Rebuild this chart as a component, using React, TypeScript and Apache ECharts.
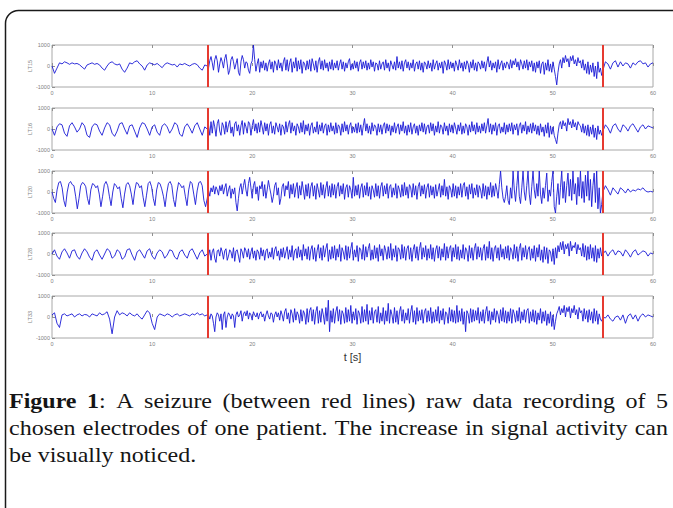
import React, { useEffect, useRef } from "react";
import * as echarts from "echarts";

// ---------- data ----------
const channelNames = ["LT15", "LT16", "LT20", "LT28", "LT33"];
const seizureStart = 15.5;
const seizureEnd = 55;
const recordEnd = 60;
const xAxisName = "t [s]";

// LT15
const lt15Pre = [0, -350, -100, 150, 100, 200, 150, 80, 150, 100, 120, 60, -50, -150, 50, 100, 150, 80, 120, 50, -100, -200, 0, 150, 200, 100, 50, 100, -150, -300, -100, 150, 100, 200, 250, 100, 0, -200, 50, 150, 100, 60, 120, 20, -80, 80, 150, 100, 50, 80, -50, 100, 60, 120, 50, 0, 80, 120, 60, -100, -200, 50, 0];
const lt15Seizure = [
  -100, 250, 450, 150, -200, 300, 500, 250, -300, 100, 400, 200, -100, 350, 550, 100, -400, -200, 300, 450,
  200, -150, 100, 350, -300, -450, 200, 500, 300, -100, 200, 150, -200, -350, 100, 250, 1000, 300, -250, 100,
  350, -300, 200, -100, 250, -200, 150, -250, 100, 300, -150, 200, -300, 250, 100, -200, 300, -100, 150, -250,
  200, 400, -200, 300, -250, 150, 350, -300, 200, -100, 400, -250, 250, -150, 300, -350, 200, 100, -200, 250,
  -150, 300, -250, 350, 100, -200, 250, -300, 200, 400, -150, 250, -200, 300, -100, 150, -250, 200, -150, 300,
  -200, 150, -100, 250, -200, 100, 300, -150, 200, -250, 150, -100, 200, 350, -200, 100, -150, 250, -100, 200,
  -250, 150, 300, -150, 200, -100, 250, -200, 150, -150, 300, -50, 200, -250, 150, 100, -200, 250, -150, 100,
  200, -200, 300, -100, 150, -250, 250, 50, -150, 200, -200, 450, -100, 200, -150, 250, -250, 150, 300, -100,
  200, -200, 150, -100, 300, -250, 100, 200, -150, 250, -200, 150, -300, 200, 100, -150, 250, -100, 150, -250,
  300, -150, 100, 250, -200, 150, -100, 200, -350, 250, 100, -200, 300, -150, 200, -100, 150, -250, 250, 50,
  -200, 300, -100, 150, -250, 200, -150, 250, 100, -300, 200, -100, 300, -200, 150, -250, 200, 100, -150, 250,
  -100, 200, -250, 150, 450, -50, 250, -200, 150, -100, 200, -300, 300, -150, 100, 250, -200, 150, -100, 200,
  100, -150, 300, -100, 250, 50, 350, -50, 200, -200, 300, 100, -150, 250, -100, 300, -200, 200, -50, 250,
  -250, 150, -300, 200, -100, 250, -350, 100, 200, -400, 150, -200, 300, -250, 100, -300, 200, -150, -500, -900,
  -300, 100, 300, -100, 400, 150, 500, 200, 350, -50, 450, 250, 500, 100, 300, 0, 400, 150, 250, -100,
  300, -200, 100, -350, 200, -400, 50, -300, 150, -500, 0, -600, 200, -300, -100, -450,
];
const lt15Post = [-200, 200, 100, -150, 150, 250, -50, 200, 0, 150, 100, -100, 150, 50, 200, 250, 100, 150, -50, 100, 150];

// LT16
const lt16Pre = [0, -300, 100, 250, 200, -200, -350, 150, 300, 100, -150, 0, 300, 150, -300, -400, 100, 250, 200, -100, -300, 50, 300, 200, -200, -350, -100, 250, 300, 0, -250, 150, 200, -100, -400, 50, 300, 250, 0, -300, 100, 200, -150, -300, 150, 250, 100, -200, 0, 300, 200, -250, -350, 100, 250, 50, -200, 150, 300, 0, -300, 100, 0];
const lt16Seizure = [
  200, -300, 350, -200, 400, 100, -350, 250, 450, -100, -300, 300, 150, -250, 350, -150, 200, 400, -200, 100,
  -350, 250, 350, -100, 200, -300, 150, 400, -250, 300, 100, -200, 350, 250, -300, 150, 450, -100, 250, -200,
  300, -150, 400, 100, -250, 300, -100, 250, -300, 200, 350, -200, 150, -250, 300, 100, -150, 250, -300, 200,
  100, -250, 350, -150, 200, 400, -200, 300, -100, 150, -300, 250, 100, -200, 300, -150, 400, -250, 200, -100,
  250, -300, 150, 300, -200, 100, -150, 350, -250, 200, -100, 300, -200, 150, 250, -300, 200, -150, 300, -100,
  150, -250, 300, -200, 200, 100, -300, 250, -150, 350, -100, 200, -250, 150, 300, -200, 100, -150, 250, -200,
  300, -150, 200, -300, 150, 500, -100, 250, -200, 150, -250, 300, -100, 200, 100, -300, 250, -150, 200, -250,
  150, 300, -200, 250, -100, 200, -300, 150, -150, 300, -200, 100, 250, -250, 200, -100, 350, -200, 150, -300,
  200, -150, 300, -250, 100, 250, -200, 150, -300, 200, -100, 300, -150, 250, -250, 100, 200, -200, 300, -100,
  250, -300, 150, -150, 350, -200, 200, 100, -250, 300, -100, 150, -300, 250, -150, 200, -200, 300, 50, -250,
  200, -100, 300, -250, 150, -200, 250, 100, -300, 200, -150, 350, -100, 200, -250, 300, -150, 150, -200, 250,
  -100, 300, -200, 150, 500, -150, 250, -250, 200, -100, 300, -300, 150, 250, -200, 100, -150, 300, -250, 200,
  -150, 250, -100, 300, -250, 200, -50, 250, -300, 150, 300, -200, 200, -100, 350, -250, 150, -150, 250, -200,
  300, -100, 200, -250, 150, -300, 250, -150, 100, -350, 200, -200, 300, -400, 150, -250, 100, -300, -500, -700,
  -200, 200, 350, 0, 400, 150, 300, -100, 500, 200, 350, 50, 450, 100, 300, -50, 350, 200, 150, -150,
  250, -200, 150, -300, 200, -350, 100, -250, 200, -400, 50, -500, 150, -250, -50, -300,
];
const lt16Post = [-100, 200, 50, -200, 150, 250, 0, -150, 200, 100, -100, 150, 250, 50, -150, 100, 200, 0, 150, 100, 50];

// LT20
const lt20Pre = [0, -300, -500, 100, 450, 500, 200, -400, -700, 0, 400, 500, 350, 300, -200, -800, -300, 300, 450, 400, 250, -300, -600, 100, 400, 350, 200, 300, -100, -700, -200, 350, 500, 300, -200, -650, 0, 400, 300, 150, 250, -300, -750, -100, 350, 450, 300, -100, -600, 50, 450, 400, 200, 300, -250, -700, -150, 400, 500, 250, -300, -650, 100, 450, 400, 150, -200, -700, -50, 400, 500, 300, -350, -700, 0, 450, 350, 200, 300, -200, -650, 100, 500, 400, -100, -600, 50, 450, 500, 300, -400, -700, -300];
const lt20Seizure = [
  100, -200, 200, 0, 300, -100, 250, 100, -150, 300, 50, 350, -100, 200, 400, -200, 100, 300, -300, 150,
  -100, 200, -500, -900, -300, 200, 400, -100, 300, 600, 100, -200, 400, 700, 200, -300, 300, 500, -100, 250,
  -400, 300, 150, 500, -200, 350, -300, 100, 550, 200, -100, -500, -200, 300, 450, -150, 200, -600, -300, 250,
  400, -200, 300, 100, 500, -300, 350, -100, 400, -250, 200, 450, -300, 300, -150, 500, 100, -350, 350, -200,
  400, -300, 250, 450, -200, 300, -350, 400, 100, -250, 450, -150, 350, -300, 200, 500, -200, 300, -250, 400,
  -150, 350, -300, 250, 450, -200, 300, -100, 400, -350, 200, 350, -250, 300, 100, -300, 700, -200, 300, -150,
  350, -300, 200, 400, -250, 300, -150, 450, -200, 250, -350, 300, 100, -250, 400, -200, 300, -300, 250, 450,
  -200, 300, -100, 400, -300, 250, 350, -250, 200, -150, 400, -300, 300, 100, -250, 350, -200, 450, -150, 250,
  -300, 350, 200, -250, 400, -150, 300, -350, 250, 450, -200, 300, -100, 350, -300, 200, 400, -250, 300, -150,
  250, -300, 350, -200, 100, 400, -250, 300, -150, 600, -200, 250, -350, 300, 150, -250, 400, -200, 300, -300,
  250, -150, 400, -250, 300, 450, -200, 250, -350, 350, -100, 400, -300, 200, -150, 350, -250, 300, 100, -300,
  400, -200, 300, -350, 250, -150, 450, -250, 300, -200, 400, 100, -300, 350, 1000, 200, -300, -500, -200, 300,
  -400, -600, 200, -300, 1000, 100, -450, 300, 1000, -200, -550, 200, 1000, 0, -400, 300, 1000, -100, -600, 250,
  1000, 100, -300, 400, -200, 1000, -100, -550, 200, -300, 300, 900, -450, 100, -200, 500, 1000, -700, -1000, -200,
  400, -600, 200, 1000, -300, 500, -500, 300, 900, -200, 600, -400, 1000, -100, 400, -600, 700, -200, 1000, -300,
  500, -500, 800, -200, 1000, -400, 600, -700, 300, 900, -500, 1000, -800, 200, -1000, -600,
];
const lt20Post = [0, 300, 100, -150, 200, 50, -100, 200, 100, -50, 150, 0, 100, 50, 150, 100, 200, 50, 0, 30, 0];

// LT28
const lt28Pre = [0, 200, -100, -250, 100, 250, 50, -200, 150, 200, -100, -250, 50, 250, 100, -150, -300, 100, 200, -50, -250, 0, 250, 150, -200, -100, 200, 100, -250, -150, 200, 250, -50, -300, 100, 200, 0, -200, 150, 250, -100, -250, 50, 200, 100, -200, -50, 200, 150, -150, -250, 100, 200, -50, -200, 150, 250, 0, -250, 50, 200, -100, 0];
const lt28Seizure = [
  -100, 200, -300, 100, 250, -200, -400, 150, 200, -100, 300, 100, -250, 150, 250, -300, -100, 200, 100, -200,
  300, -350, 150, 200, -100, -400, 250, 100, -200, 300, 150, -150, 250, -250, 100, 300, -200, 150, -300, 200,
  100, -250, 300, -100, 200, -300, 150, 250, -200, 100, -150, 300, -250, 200, 350, -100, 150, -300, 250, -150,
  300, -200, 100, 350, -250, 200, -150, 400, -300, 150, 250, -200, 350, -150, 200, -300, 450, -100, 250, -250,
  350, -300, 200, 400, -250, 300, -350, 150, 450, -200, 300, -300, 400, -150, 250, 500, -350, 200, -250, 350,
  -200, 400, -300, 250, -150, 450, -350, 300, 100, -250, 400, -300, 350, -200, 250, 550, -300, 200, -150, 400,
  -350, 300, 200, -250, 450, -300, 350, -150, 250, 500, -300, 200, -250, 400, -200, 300, -350, 450, -100, 250,
  -300, 400, 150, -250, 350, -200, 500, -300, 250, -150, 400, -350, 300, 200, -250, 450, -200, 350, -300, 250,
  400, -250, 300, -350, 200, 450, -200, 350, -300, 250, 550, -250, 300, -150, 400, -300, 250, -200, 450, -250,
  300, -350, 200, 400, -200, 350, -300, 250, -150, 500, -300, 350, -200, 250, 400, -350, 300, -150, 450, -250,
  350, -300, 200, -200, 450, -250, 300, 150, -350, 400, -200, 300, -300, 250, 500, -250, 350, -150, 300, -300,
  250, 450, -300, 350, -200, 600, -250, 300, -350, 250, 400, -200, 300, -300, 450, -150, 250, -250, 350, -200,
  400, -300, 300, 150, -250, 450, -200, 350, -350, 250, 500, -300, 300, -150, 400, -250, 200, 350, -300, 250,
  -200, 400, -350, 300, -150, 450, -300, 200, -400, 350, -250, 300, -450, 200, 100, -350, 250, -500, 300, -200,
  400, 100, 550, 200, 600, 0, 450, 250, 500, -100, 600, 150, 400, 300, 550, 0, 450, 200, 300, -100,
  500, -150, 400, -300, 350, -250, 450, -200, 300, -350, 400, -400, 250, -200, 300, -100,
];
const lt28Post = [0, 150, -100, 100, 200, -50, 150, 100, -100, 200, 50, -150, 100, 200, -50, 50, 150, 100, -100, 50, 0];

// LT33
const lt33Pre = [100, 200, -300, -500, 100, 150, 50, 100, 150, 0, 100, 150, 50, 120, 100, 0, 150, 100, 50, 200, 100, 150, 250, -100, -800, 0, 300, 100, 200, 150, 50, 200, 100, 50, 150, 0, -100, 100, 300, 200, -300, -600, 0, 150, 100, 50, 150, 100, 0, 100, 150, 50, 100, 150, 100, 50, 150, 100, 200, 100, 150, 50, 100];
const lt33Seizure = [
  100, -100, 150, 50, -300, -700, 0, 200, 100, -200, 150, -600, 100, 250, -500, 0, 200, 100, -100, 150,
  50, -500, 100, 250, 0, 100, 300, -200, 150, 250, 50, 300, -100, 200, 100, -150, 250, 100, 0, 200,
  -100, 150, 250, 0, 150, -200, 100, 300, 50, -100, 200, 150, -250, 100, 250, 0, 200, -150, 300, 100,
  -200, 250, 400, -100, 200, -300, 350, 150, -250, 400, -150, 250, 100, -300, 350, -200, 300, 150, -350, 400,
  -250, 300, 450, -200, 350, -350, 250, 500, -300, 300, -250, 400, 100, -350, 450, -200, 800, -700, 300, -250,
  400, -300, 250, 500, -200, 350, -350, 300, 150, -300, 450, -250, 350, -200, 550, -300, 250, -150, 400, -350,
  300, 150, -300, 500, -250, 350, -200, 600, -350, 300, -150, 450, -300, 250, 350, -250, 500, -300, 200, -200,
  450, -350, 300, -200, 650, -300, 350, 100, -300, 450, -250, 300, -350, 250, 500, -200, 350, -300, 200, -150,
  400, -300, 250, 550, -250, 300, -350, 450, -200, 300, -150, 350, -300, 250, 400, -250, 300, -200, 450, -300,
  250, -250, 350, -200, 500, -300, 300, -150, 400, -350, 250, 150, -300, 450, -200, 350, -250, 300, -300, 550,
  -250, 300, -200, 400, -350, 250, -700, 300, 150, -300, 400, -250, 350, -200, 300, -150, 450, -300, 250, -200,
  350, -300, 250, 500, -200, 300, -350, 250, -150, 400, -250, 300, 100, -300, 350, -200, 450, -250, 300, -300,
  250, -200, 400, -300, 350, 150, -250, 300, -200, 450, -300, 250, -150, 350, -250, 300, 400, -300, 250, -200,
  350, -250, 300, -350, 200, -150, 400, -300, 250, -200, 300, -400, 150, -300, 250, -450, 100, -600, -200, 150,
  300, 500, 100, 400, 200, 550, 0, 450, 250, 500, -50, 400, 200, 550, 100, 350, -100, 450, 200, 300,
  -200, 400, -100, 300, -250, 350, -150, 250, -300, 400, -200, 300, -350, 150, -100, -200,
];
const lt33Post = [0, -50, 100, -100, -200, 0, 50, -150, 100, -300, 50, 150, -100, 100, -200, 50, 150, 0, 100, 50, 0];

const channelSegments = [
  [lt15Pre, lt15Seizure, lt15Post],
  [lt16Pre, lt16Seizure, lt16Post],
  [lt20Pre, lt20Seizure, lt20Post],
  [lt28Pre, lt28Seizure, lt28Post],
  [lt33Pre, lt33Seizure, lt33Post],
];

const captionLines = [
  "Figure 1: A seizure (between red lines) raw data recording of 5",
  "chosen electrodes of one patient. The increase in signal activity can",
  "be visually noticed.",
];
const captionBoldPrefix = "Figure 1";

// ---------- layout ----------
const gridLeft = 52;
const gridWidth = 601;
const gridHeight = 42;
const gridTops = [45, 108, 171, 233, 296];
const captionFont = "Liberation Serif";
const captionSize = 20;

function samplesToPoints(pre: number[], sz: number[], post: number[]) {
  const pts: number[][] = [];
  pre.forEach((v, i) => pts.push([(i * seizureStart) / (pre.length - 1), v]));
  const span = seizureEnd - seizureStart;
  sz.forEach((v, i) => pts.push([seizureStart + ((i + 1) * span) / (sz.length + 1), v]));
  post.forEach((v, i) => pts.push([seizureEnd + (i * (recordEnd - seizureEnd)) / (post.length - 1), v]));
  return pts;
}

function buildCaption(): any[] {
  const canvas = document.createElement("canvas");
  const ctx = canvas.getContext("2d")!;
  const fs = captionSize;
  const measure = (s: string, bold: boolean) => {
    ctx.font = `${bold ? "bold " : ""}${fs}px "${captionFont}"`;
    return ctx.measureText(s).width;
  };
  const natural = measure(captionLines[1], false);
  const sx = Math.max(1, Math.min(1.2, 650 / natural));
  const x0 = 9;
  const x1 = 668;
  const lineY = [401, 428, 455];
  const els: any[] = [];
  let charPos = 0;
  captionLines.forEach((line, li) => {
    const words = line.split(" ");
    const wordRuns = words.map((w) => {
      const runs: { text: string; bold: boolean }[] = [];
      for (let k = 0; k < w.length; k++) {
        const bold = li === 0 && charPos + k < captionBoldPrefix.length;
        const last = runs[runs.length - 1];
        if (last && last.bold === bold) last.text += w[k];
        else runs.push({ text: w[k], bold });
      }
      charPos += w.length + 1;
      return runs;
    });
    const widths = wordRuns.map((runs) => runs.reduce((s, r) => s + measure(r.text, r.bold) * sx, 0));
    const total = widths.reduce((a, b) => a + b, 0);
    const justify = li < captionLines.length - 1;
    const gap = justify ? (x1 - x0 - total) / (words.length - 1) : measure(" ", false) * sx;
    let x = x0;
    wordRuns.forEach((runs, wi) => {
      let rx = x;
      runs.forEach((r) => {
        els.push({
          type: "text",
          x: rx,
          y: lineY[li],
          scaleX: sx,
          silent: true,
          style: {
            text: r.text,
            fontSize: fs,
            fontFamily: captionFont,
            fontWeight: r.bold ? "bold" : "normal",
            fill: "#151515",
            align: "left",
            verticalAlign: "middle",
          },
        });
        rx += measure(r.text, r.bold) * sx;
      });
      x += widths[wi] + gap;
    });
  });
  return els;
}

export default function App() {
  const ref = useRef<HTMLDivElement>(null);
  useEffect(() => {
    if (!ref.current) return;
    const chart = echarts.init(ref.current, undefined, { renderer: "svg" });
    const tickLabel = {
      fontSize: 5.5,
      color: "#808080",
      fontFamily: "Liberation Sans",
      formatter: (v: number) => String(v),
    };
    const grid = channelNames.map((_, i) => ({
      left: gridLeft,
      width: gridWidth,
      top: gridTops[i],
      height: gridHeight,
      show: true,
      borderColor: "#a8a8a8",
      borderWidth: 1,
      backgroundColor: "transparent",
      containLabel: false,
    }));
    const xAxis: any[] = [];
    channelNames.forEach((_, i) => {
      const base = {
        type: "value",
        gridIndex: i,
        min: 0,
        max: recordEnd,
        interval: 10,
        axisLine: { show: false },
        axisTick: { show: true, inside: true, length: 3, lineStyle: { color: "#909090", width: 1 } },
        splitLine: { show: false },
      };
      xAxis.push({ ...base, position: "bottom", axisLabel: { ...tickLabel, margin: 3 } });
      xAxis.push({ ...base, position: "top", axisLabel: { show: false } });
    });
    const yAxis = channelNames.map((name, i) => ({
      type: "value",
      gridIndex: i,
      min: -1000,
      max: 1000,
      interval: 1000,
      axisLine: { show: false },
      axisTick: { show: true, inside: true, length: 3, lineStyle: { color: "#909090" } },
      axisLabel: { ...tickLabel, margin: 2 },
      splitLine: { show: false },
      name,
      nameLocation: "middle",
      nameGap: 19,
      nameMoveOverlap: false,
      nameRotate: 90,
      nameTextStyle: { fontSize: 5.5, color: "#808080", fontFamily: "Liberation Sans" },
    }));
    const series = channelSegments.map(([pre, sz, post], i) => ({
      type: "line",
      name: channelNames[i],
      xAxisIndex: i * 2,
      yAxisIndex: i,
      data: samplesToPoints(pre, sz, post),
      symbol: "none",
      showSymbol: false,
      clip: true,
      lineStyle: { color: "#1a1ad6", width: 0.9 },
      markLine: {
        silent: true,
        symbol: ["none", "none"],
        label: { show: false },
        lineStyle: { color: "#e63a30", width: 2, type: "solid" },
        data: [{ xAxis: seizureStart }, { xAxis: seizureEnd }],
      },
    }));
    const graphic: any[] = [
      {
        type: "rect",
        silent: true,
        shape: { x: 5.5, y: 10.5, width: 720, height: 540, r: [13, 0, 0, 0] },
        style: { fill: "none", stroke: "#1a1a1a", lineWidth: 1.5 },
      },
      {
        type: "text",
        x: gridLeft + gridWidth / 2,
        y: 357,
        silent: true,
        style: {
          text: xAxisName,
          fontSize: 11,
          fontFamily: "Liberation Sans",
          fill: "#333",
          align: "center",
          verticalAlign: "middle",
        },
      },
      ...buildCaption(),
    ];
    chart.setOption({
      animation: false,
      backgroundColor: "#ffffff",
      grid,
      xAxis,
      yAxis,
      series,
      graphic,
    });
    return () => chart.dispose();
  }, []);
  return (
    <div
      ref={ref}
      style={{ position: "absolute", left: 0, top: 0, width: 673, height: 508 }}
    />
  );
}
